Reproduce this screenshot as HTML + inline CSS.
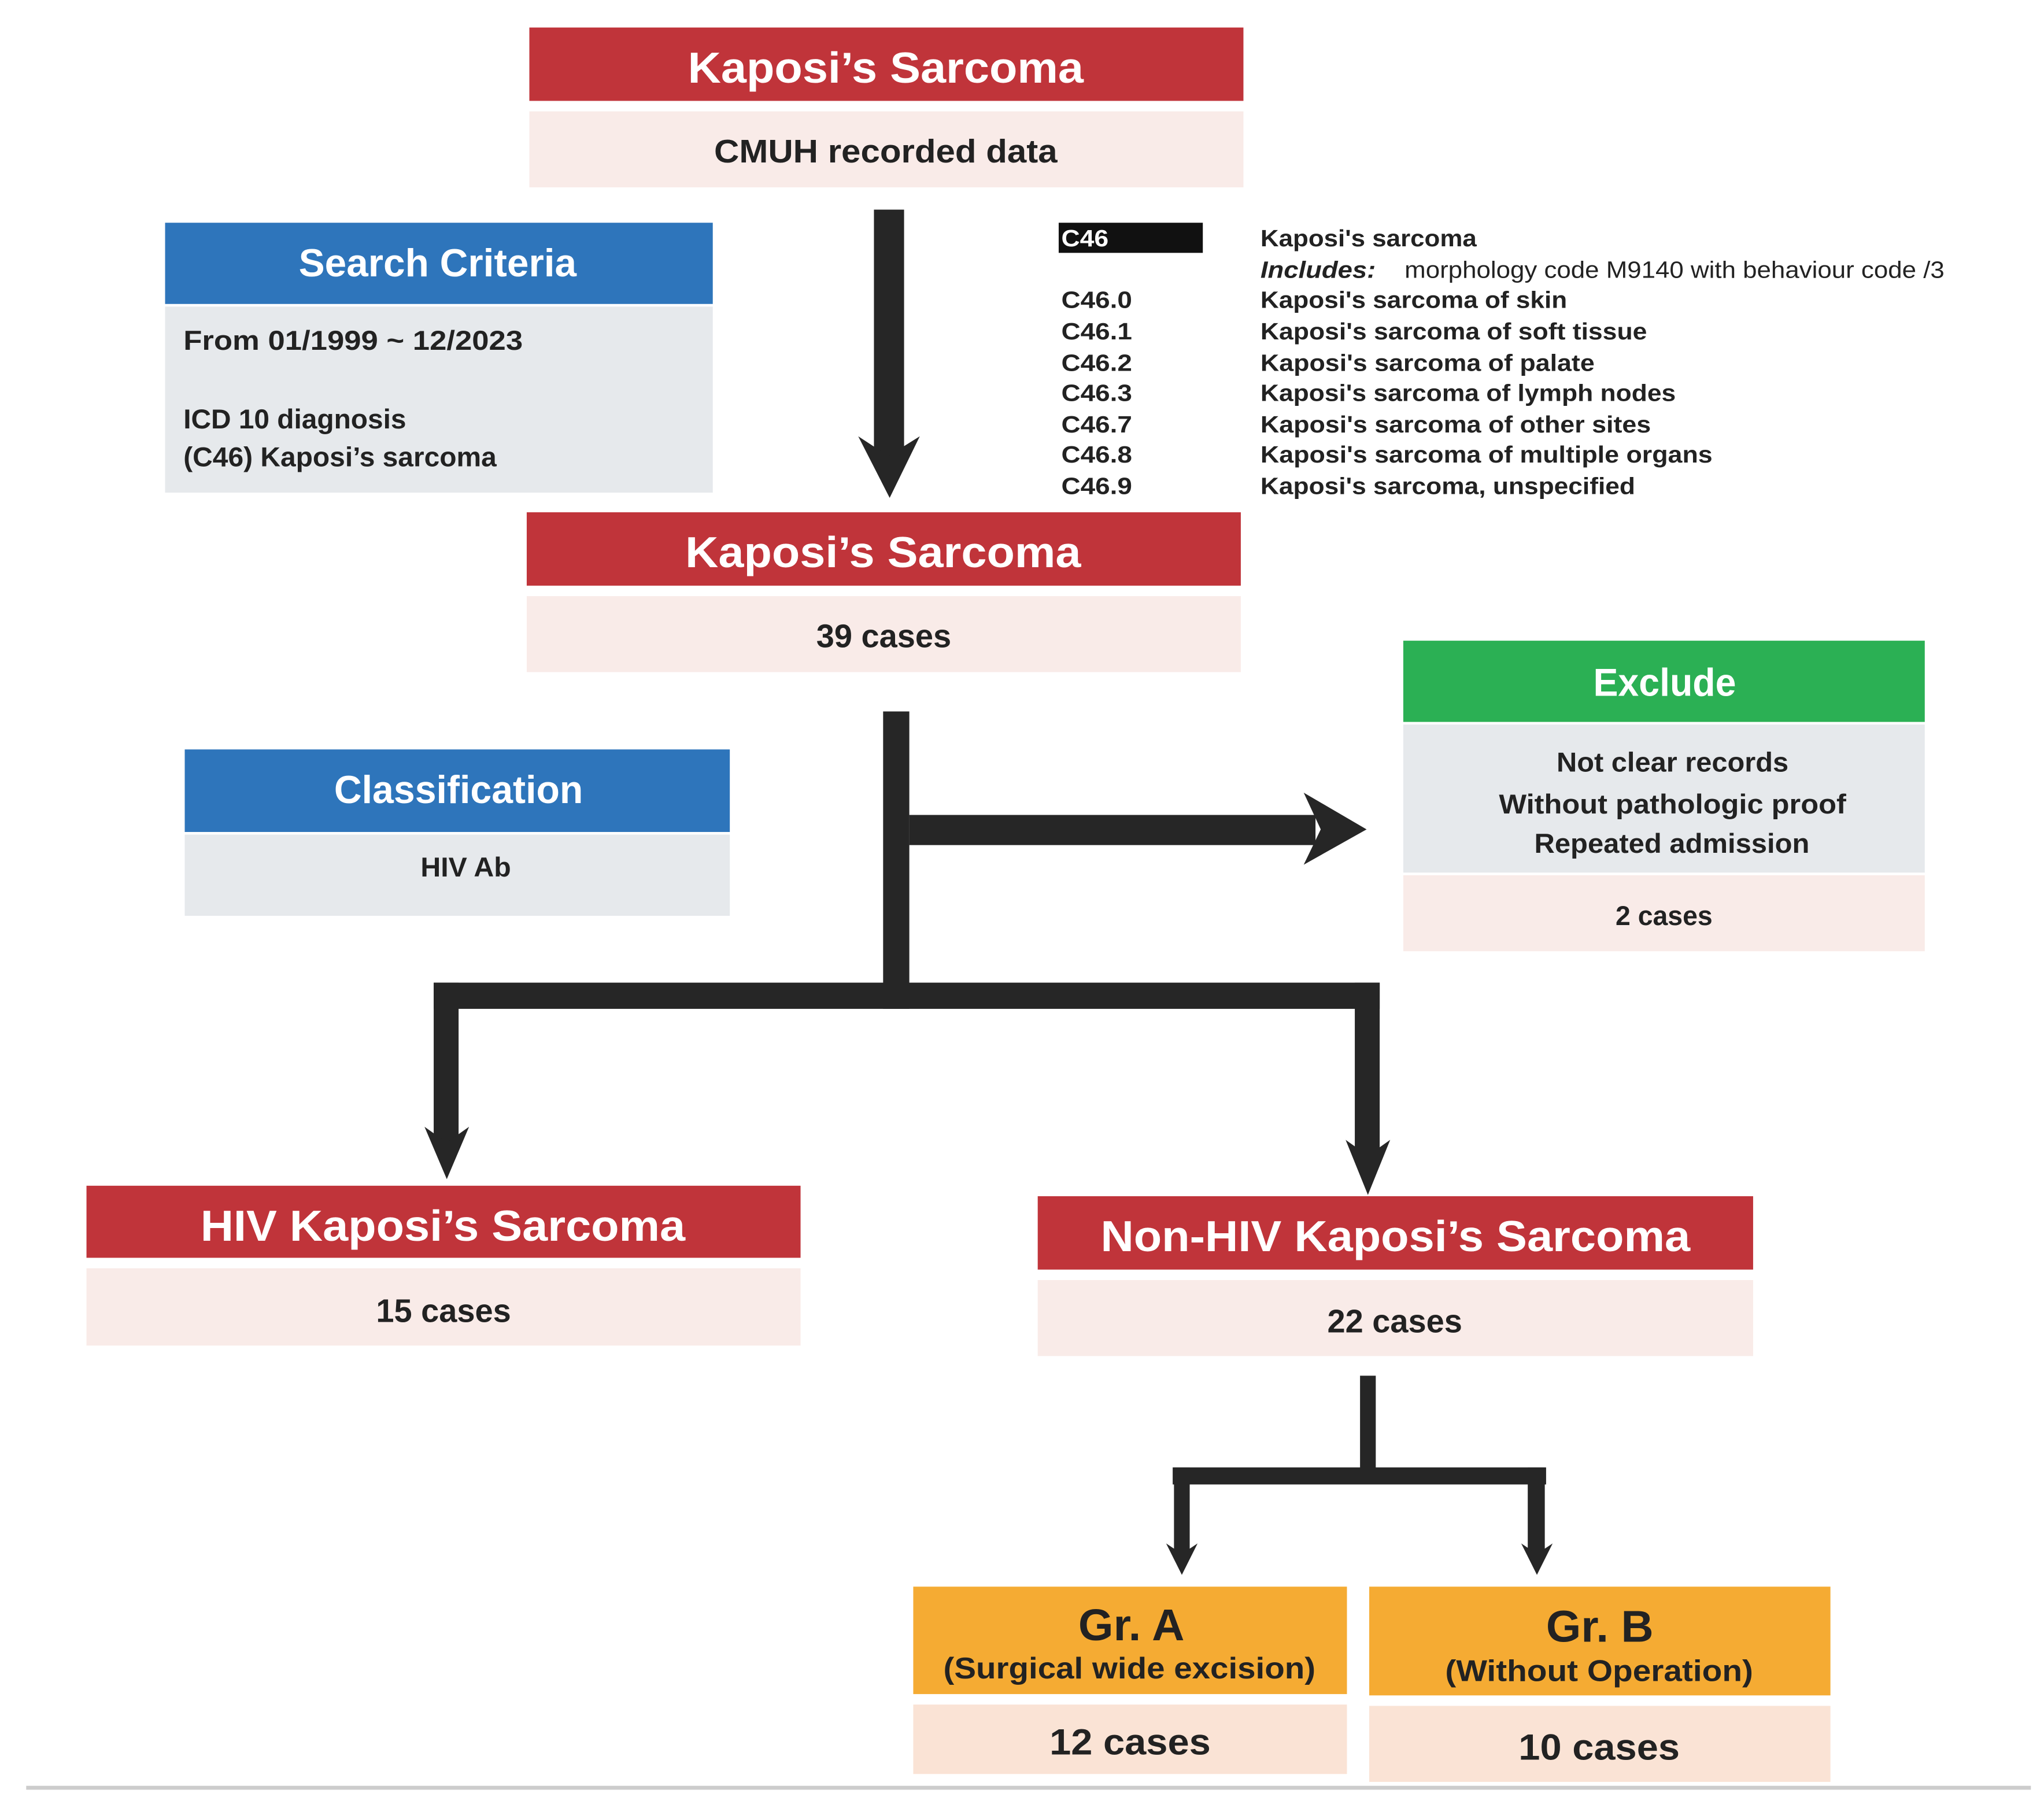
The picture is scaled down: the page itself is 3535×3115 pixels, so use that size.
<!DOCTYPE html>
<html><head><meta charset="utf-8"><style>html,body{margin:0;padding:0;background:#fff}svg{display:block}</style></head>
<body>
<svg width="3535" height="3115" viewBox="0 0 1560 1374.6" preserveAspectRatio="none" xmlns="http://www.w3.org/2000/svg" font-family="Liberation Sans, sans-serif" font-weight="bold">
<!-- top box -->
<rect x="404" y="21" width="545" height="56" fill="#c0343a"/>
<rect x="404" y="85" width="545" height="58" fill="#f9ebe8"/>
<text x="525" y="63" font-size="33" fill="#fff" textLength="302" lengthAdjust="spacingAndGlyphs">Kaposi’s Sarcoma</text>
<text x="545" y="124" font-size="25" fill="#222" textLength="262" lengthAdjust="spacingAndGlyphs">CMUH recorded data</text>
<!-- arrow 1 -->
<rect x="667" y="160" width="23" height="190" fill="#262626"/>
<polygon points="655,333 678,348 702,333 679,380" fill="#262626"/>
<!-- search criteria -->
<rect x="126" y="170" width="418" height="62" fill="#2e75bb"/>
<rect x="126" y="234" width="418" height="142" fill="#e6e9ec"/>
<text x="228" y="211" font-size="30" fill="#fff" textLength="212" lengthAdjust="spacingAndGlyphs">Search Criteria</text>
<g font-size="21" fill="#222"><text x="140" y="267" textLength="259" lengthAdjust="spacingAndGlyphs">From 01/1999 ~ 12/2023</text><text x="140" y="327" textLength="170" lengthAdjust="spacingAndGlyphs">ICD 10 diagnosis</text><text x="140" y="356" textLength="239" lengthAdjust="spacingAndGlyphs">(C46) Kaposi’s sarcoma</text></g>
<!-- C46 list -->
<rect x="808" y="170" width="110" height="23" fill="#111"/>
<g font-size="18" fill="#222" lengthAdjust="spacingAndGlyphs">
<text x="810" y="188" fill="#fff" textLength="36" lengthAdjust="spacingAndGlyphs">C46</text>
<text x="962" y="188" textLength="165" lengthAdjust="spacingAndGlyphs">Kaposi's sarcoma</text>
<text x="962" y="212" font-style="italic" textLength="88" lengthAdjust="spacingAndGlyphs">Includes:</text>
<text x="1072" y="212" font-weight="normal" textLength="412" lengthAdjust="spacingAndGlyphs">morphology code M9140 with behaviour code /3</text>
<text x="810" y="235" textLength="54" lengthAdjust="spacingAndGlyphs">C46.0</text><text x="962" y="235" textLength="234" lengthAdjust="spacingAndGlyphs">Kaposi's sarcoma of skin</text>
<text x="810" y="259" textLength="54" lengthAdjust="spacingAndGlyphs">C46.1</text><text x="962" y="259" textLength="295" lengthAdjust="spacingAndGlyphs">Kaposi's sarcoma of soft tissue</text>
<text x="810" y="283" textLength="54" lengthAdjust="spacingAndGlyphs">C46.2</text><text x="962" y="283" textLength="255" lengthAdjust="spacingAndGlyphs">Kaposi's sarcoma of palate</text>
<text x="810" y="306" textLength="54" lengthAdjust="spacingAndGlyphs">C46.3</text><text x="962" y="306" textLength="317" lengthAdjust="spacingAndGlyphs">Kaposi's sarcoma of lymph nodes</text>
<text x="810" y="330" textLength="54" lengthAdjust="spacingAndGlyphs">C46.7</text><text x="962" y="330" textLength="298" lengthAdjust="spacingAndGlyphs">Kaposi's sarcoma of other sites</text>
<text x="810" y="353" textLength="54" lengthAdjust="spacingAndGlyphs">C46.8</text><text x="962" y="353" textLength="345" lengthAdjust="spacingAndGlyphs">Kaposi's sarcoma of multiple organs</text>
<text x="810" y="377" textLength="54" lengthAdjust="spacingAndGlyphs">C46.9</text><text x="962" y="377" textLength="286" lengthAdjust="spacingAndGlyphs">Kaposi's sarcoma, unspecified</text>
</g>
<!-- box 2 -->
<rect x="402" y="391" width="545" height="56" fill="#c0343a"/>
<rect x="402" y="455" width="545" height="58" fill="#f9ebe8"/>
<text x="523" y="433" font-size="33" fill="#fff" textLength="302" lengthAdjust="spacingAndGlyphs">Kaposi’s Sarcoma</text>
<text x="623" y="494" font-size="25" fill="#222" textLength="103" lengthAdjust="spacingAndGlyphs">39 cases</text>
<!-- exclude -->
<rect x="1071" y="489" width="398" height="62" fill="#2bb054"/>
<rect x="1071" y="553" width="398" height="113" fill="#e6e9ec"/>
<rect x="1071" y="668" width="398" height="58" fill="#f9ebe8"/>
<text x="1216" y="531" font-size="30" fill="#fff" textLength="109" lengthAdjust="spacingAndGlyphs">Exclude</text>
<g font-size="21" fill="#222"><text x="1188" y="589" textLength="177" lengthAdjust="spacingAndGlyphs">Not clear records</text><text x="1144" y="621" textLength="265" lengthAdjust="spacingAndGlyphs">Without pathologic proof</text><text x="1171" y="651" textLength="210" lengthAdjust="spacingAndGlyphs">Repeated admission</text><text x="1233" y="706" textLength="74" lengthAdjust="spacingAndGlyphs">2 cases</text></g>
<!-- classification -->
<rect x="141" y="572" width="416" height="63" fill="#2e75bb"/>
<rect x="141" y="637" width="416" height="62" fill="#e6e9ec"/>
<text x="255" y="613" font-size="30" fill="#fff" textLength="190" lengthAdjust="spacingAndGlyphs">Classification</text>
<text x="321" y="669" font-size="21" fill="#222" textLength="69" lengthAdjust="spacingAndGlyphs">HIV Ab</text>
<!-- connectors -->
<g fill="#262626">
<rect x="674" y="543" width="20" height="227"/>
<rect x="694" y="622" width="310" height="23"/>
<polygon points="995,605 1043,633 995,660 1008,633"/>
<rect x="331" y="750" width="722" height="20"/>
<rect x="331" y="750" width="19" height="125"/>
<polygon points="324,860 341,872 358,860 341,900"/>
<rect x="1034" y="750" width="19" height="135"/>
<polygon points="1027,870 1044,882 1061,870 1044,912"/>
<rect x="1038" y="1050" width="12" height="80"/>
<rect x="895" y="1120" width="285" height="13"/>
<rect x="896" y="1120" width="12" height="68"/>
<polygon points="890,1178 902,1186 914,1178 902,1202"/>
<rect x="1166" y="1120" width="13" height="68"/>
<polygon points="1161,1178 1173,1186 1185,1178 1173,1202"/>
</g>
<!-- HIV -->
<rect x="66" y="905" width="545" height="55" fill="#c0343a"/>
<rect x="66" y="968" width="545" height="59" fill="#f9ebe8"/>
<text x="153" y="947" font-size="33" fill="#fff" textLength="370" lengthAdjust="spacingAndGlyphs">HIV Kaposi’s Sarcoma</text>
<text x="287" y="1009" font-size="25" fill="#222" textLength="103" lengthAdjust="spacingAndGlyphs">15 cases</text>
<!-- Non-HIV -->
<rect x="792" y="913" width="546" height="56" fill="#c0343a"/>
<rect x="792" y="977" width="546" height="58" fill="#f9ebe8"/>
<text x="840" y="955" font-size="33" fill="#fff" textLength="450" lengthAdjust="spacingAndGlyphs">Non-HIV Kaposi’s Sarcoma</text>
<text x="1013" y="1017" font-size="25" fill="#222" textLength="103" lengthAdjust="spacingAndGlyphs">22 cases</text>
<!-- Gr A -->
<rect x="697" y="1211" width="331" height="82" fill="#f5ab33"/>
<rect x="697" y="1301" width="331" height="53" fill="#fae3d5"/>
<text x="823" y="1252" font-size="34" fill="#222" textLength="81" lengthAdjust="spacingAndGlyphs">Gr. A</text>
<text x="720" y="1281" font-size="23" fill="#222" textLength="284" lengthAdjust="spacingAndGlyphs">(Surgical wide excision)</text>
<text x="801" y="1339" font-size="28" fill="#222" textLength="123" lengthAdjust="spacingAndGlyphs">12 cases</text>
<!-- Gr B -->
<rect x="1045" y="1211" width="352" height="83" fill="#f5ab33"/>
<rect x="1045" y="1302" width="352" height="58" fill="#fae3d5"/>
<text x="1180" y="1253" font-size="34" fill="#222" textLength="82" lengthAdjust="spacingAndGlyphs">Gr. B</text>
<text x="1103" y="1283" font-size="23" fill="#222" textLength="235" lengthAdjust="spacingAndGlyphs">(Without Operation)</text>
<text x="1159" y="1343" font-size="28" fill="#222" textLength="123" lengthAdjust="spacingAndGlyphs">10 cases</text>
<rect x="20" y="1363" width="1530" height="3" fill="#ccc"/>
</svg>
</body></html>
